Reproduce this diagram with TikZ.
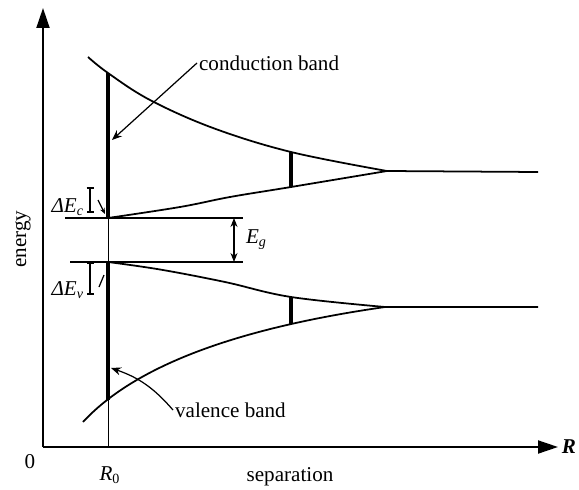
\documentclass[tikz,border=0pt]{standalone}
\usepackage{fontspec}
\setmainfont{Liberation Serif}
\usetikzlibrary{arrows.meta,positioning,calc}
\tikzset{
  axisline/.style={
    line width=1.1pt,
    -{Triangle[length=4mm,width=2.6mm]}
  },
  bandline/.style={
    line width=1pt
  },
  gapline/.style={
    line width=2.2pt
  },
  leader/.style={
    line width=0.7pt,
    -{Stealth[length=2mm,width=1.6mm]}
  },
  marker/.style={
    line width=0.9pt,
    {Bar[width=1.4mm]}-{Bar[width=1.4mm]}
  },
  txt/.style={
    font=\fontsize{12}{14}\selectfont,
    inner sep=1pt
  }
}

\begin{document}
\begin{tikzpicture}
\useasboundingbox (-0.86,-0.84) rectangle (10.72,8.94);

% axes
\coordinate (origin) at (0,0);
\coordinate (ytip) at (0,8.78);
\coordinate (xtip) at (10.3,0);
\draw[axisline] (origin) -- (ytip);
\draw[axisline] (origin) -- (xtip);
\node[txt, right=1pt of xtip, font=\fontsize{12}{14}\selectfont\itshape\bfseries] (rlab) {R};
\node[txt] (zero) at (-0.26,-0.3) {0};
\node[txt] (sep) at (4.94,-0.6) {separation};
\node[txt, rotate=90] (energy) at (-0.4,4.16) {energy};

% equilibrium separation
\coordinate (rzero) at (1.3,0);
\coordinate (rtop) at (1.3,7.48);
\draw[line width=0.5pt] (rzero) -- (rtop);
\node[txt] (rzlab) at (1.34,-0.56) {\textit{R}\textsubscript{0}};

% band edges
\coordinate (cb0) at (1.3,7.48);
\coordinate (cb1) at (1.3,4.58);
\coordinate (vb0) at (1.3,3.7);
\coordinate (vb1) at (1.3,0.95);
\coordinate (cend) at (9.9,5.5);
\coordinate (vend) at (9.9,2.8);

\draw[bandline] plot[smooth, tension=0.6] coordinates
  {(0.9,7.8) (1.3,7.48) (2.14,6.94) (3.4,6.38) (4.96,5.9) (6.88,5.52)} -- (cend);
\draw[bandline] plot[smooth, tension=0.6] coordinates
  {(1.3,4.58) (2.74,4.8) (3.74,5.0) (4.96,5.2) (6.88,5.52)};
\draw[bandline] plot[smooth, tension=0.6] coordinates
  {(1.3,3.7) (2.34,3.55) (3.64,3.3) (4.96,3.0) (6.84,2.8)} -- (vend);
\draw[bandline] (0.8,0.5) .. controls (2.0,1.8) and (4.4,2.45) .. (6.84,2.8);

% band widths
\draw[gapline] (cb0) -- (cb1);
\draw[gapline] (vb0) -- (vb1);
\coordinate (cw0) at (4.96,5.9);
\coordinate (cw1) at (4.96,5.2);
\coordinate (vw0) at (4.96,3.0);
\coordinate (vw1) at (4.96,2.47);
\draw[gapline] (cw0) -- (cw1);
\draw[gapline] (vw0) -- (vw1);

% gap
\coordinate (cl0) at (0.44,4.58);
\coordinate (cl1) at (4.0,4.58);
\coordinate (vl0) at (0.54,3.7);
\coordinate (vl1) at (4.0,3.7);
\draw[bandline] (cl0) -- (cl1);
\draw[bandline] (vl0) -- (vl1);
\coordinate (ga) at (3.82,4.58);
\coordinate (gb) at (3.82,3.7);
\draw[line width=0.6pt, {Stealth[length=1.8mm,width=1.4mm]}-{Stealth[length=1.8mm,width=1.4mm]}] (ga) -- (gb);
\node[txt, anchor=west] (eg) at (4.02,4.14) {\textit{E}\textsubscript{\textit{g}}};

% offsets
\coordinate (dc0) at (0.94,5.2);
\coordinate (dc1) at (0.94,4.68);
\draw[marker] (dc0) -- (dc1);
\node[txt, anchor=east] (dec) at (0.86,4.8) {\textit{ΔE}\textsubscript{\textit{c}}};
\coordinate (dca) at (1.1,4.94);
\coordinate (dcb) at (1.24,4.66);
\draw[leader, -{Stealth[length=1.2mm,width=1mm]}] (dca) -- (dcb);
\coordinate (dv0) at (0.94,3.7);
\coordinate (dv1) at (0.94,3.04);
\draw[marker] (dv0) -- (dv1);
\node[txt, anchor=east] (dev) at (0.86,3.14) {\textit{ΔE}\textsubscript{\textit{v}}};
\coordinate (dva) at (1.12,3.2);
\coordinate (dvb) at (1.22,3.44);
\draw[line width=0.7pt] (dva) -- (dvb);

% labels
\node[txt, anchor=west] (cblab) at (3.08,7.68) {conduction band};
\node[txt, anchor=west] (vblab) at (2.6,0.74) {valence band};
\coordinate (cbtip) at (1.38,6.14);
\coordinate (vbtip) at (1.36,1.58);
\draw[leader] (cblab.west) -- (cbtip);
\draw[leader] (vblab.west) to[bend right=15] (vbtip);
\end{tikzpicture}
\end{document}
